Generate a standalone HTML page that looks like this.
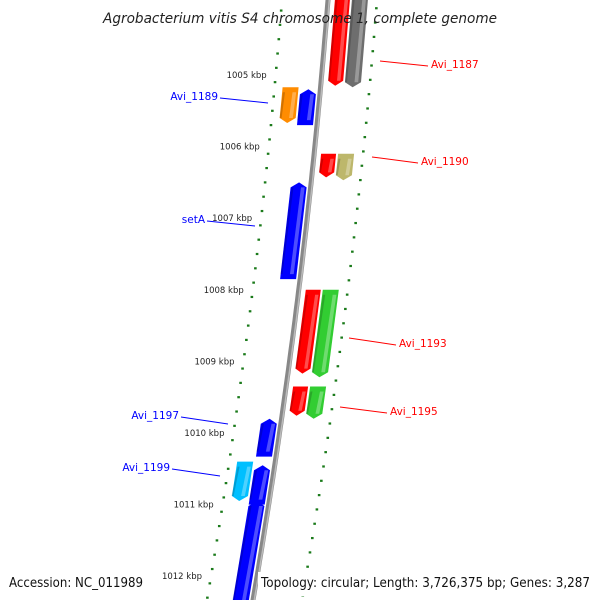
<!DOCTYPE html>
<html><head><meta charset="utf-8"><style>
body{margin:0;background:#fff;}
svg{display:block;font-family:"DejaVu Sans","Liberation Sans",sans-serif;}
</style></head><body>
<svg id="map" width="600" height="600" viewBox="0 0 600 600" xmlns="http://www.w3.org/2000/svg">
<rect width="600" height="600" fill="#fff"/>
<g id="tracks"></g>
<g id="genes"></g>
<g id="labels"></g>
<text x="103" y="23" textLength="394" lengthAdjust="spacingAndGlyphs" font-size="14" font-style="italic" fill="#222">Agrobacterium vitis S4 chromosome 1, complete genome</text>
<rect x="258" y="572" width="342" height="24" fill="#fff"/>
<text x="9" y="587" textLength="134" lengthAdjust="spacingAndGlyphs" font-size="13" fill="#111">Accession: NC_011989</text>
<text x="261" y="587" textLength="329" lengthAdjust="spacingAndGlyphs" font-size="13" fill="#111">Topology: circular; Length: 3,726,375 bp; Genes: 3,287</text>
</svg>
<script>
// data
const kbpTicks = [1005,1006,1007,1008,1009,1010,1011,1012];
const geneNames = ["g-top-red","g-top-gray","g-orange","Avi_1189","Avi_1190","g-khaki","setA","Avi_1193","g-green-1193","Avi_1195","g-green-1195","Avi_1197","Avi_1199","g-blue-1199","g-blue-bottom"];
const geneStart = [1003.8,1003.8,1005.17,1005.2,1006.1,1006.1,1006.5,1008.0,1008.0,1009.35,1009.35,1009.8,1010.4,1010.45,1010.95];
const geneEnd   = [1005.15,1005.17,1005.67,1005.7,1006.43,1006.47,1007.85,1009.17,1009.22,1009.76,1009.8,1010.33,1010.95,1011.0,1012.5];
const geneStrand= [-1,-1,-1,1,-1,-1,1,-1,-1,-1,-1,1,-1,1,1];
const geneLane  = [1,2,-2,-1,1,2,-1,1,2,1,2,-1,-2,-1,-1];
const geneColor = ["#ff0000","#6e6e6e","#ff8c00","#0000ff","#ff0000","#bdb76b","#0000ff","#ff0000","#32cd32","#ff0000","#32cd32","#0000ff","#00bfff","#0000ff","#0000ff"];
const labelNames = ["Avi_1187","Avi_1189","Avi_1190","setA","Avi_1193","Avi_1195","Avi_1197","Avi_1199"];
const labelColor = ["red","blue","red","blue","red","red","blue","blue"];
const labelX1 = [380,268,372,255,349,340,228,220];
const labelY1 = [61,103,157,226,338,407,424,476];
const labelX2 = [428,220,418,207,396,387,181,172];
const labelY2 = [66,98,163,221,345,413,417,469];

// axis functions
const NS="http://www.w3.org/2000/svg";
function yOf(k){ return 75 + (k-1005)*71.6; }
function bx(y){ return 328 - 0.0784*y - 7.77e-5*y*y; }
function mk(tag, attrs, parent){ const e=document.createElementNS(NS,tag); for(const k in attrs) e.setAttribute(k,attrs[k]); parent.appendChild(e); return e; }

const tracks=document.getElementById('tracks');
let d=""; for(let y=-10;y<=610;y+=10){ d+=(y===-10?"M":"L")+bx(y).toFixed(1)+","+y; }
const bb1=mk('path',{d:d,stroke:"#888",'stroke-width':5,fill:"none"},tracks);


const bb2=mk('path',{d:d,stroke:"#bbb",'stroke-width':1.5,fill:"none",transform:"translate(1.3,0)"},tracks);



for(let k=1003.7;k<=1012.5;k+=0.2){
  const kr=Math.round(k*10)/10;
  const y=yOf(kr);
  const major=Math.abs(kr-Math.round(kr))<0.01;
  const xl=bx(y)-46;
  const t=mk('line',{x1:xl-(major?4.5:1.3),y1:y,x2:xl+(major?4.5:1.3),y2:y+(major?0.8:0),stroke:"#1a7a1a",'stroke-width':2.2},tracks);
  
  
  const y2=y+12;
  const xr=bx(y2)+49;
  const t2=mk('line',{x1:xr-(major?4.5:1.3),y1:y2,x2:xr+(major?4.5:1.3),y2:y2+(major?0.8:0),stroke:"#1a7a1a",'stroke-width':2.2},tracks);
  
  
}
kbpTicks.forEach(k=>{
  const y=yOf(k);
  const tx=mk('text',{x:bx(y)-55,y:y+3,'text-anchor':'end','font-size':8.5,fill:"#222"},tracks);
  tx.textContent=k+" kbp";
  
  
});

const genes=document.getElementById('genes');
const laneOff={1:[7,22],2:[24,40],"-1":[-20,-4],"-2":[-38,-22]};
geneNames.forEach((n,i)=>{
  let y1=yOf(geneStart[i]), y2=yOf(geneEnd[i]);
  const off=laneOff[geneLane[i]];
  const a=Math.min(5,(y2-y1)/4);
  const pts=[];
  const left=y=>bx(y)+off[0], right=y=>bx(y)+off[1], mid=y=>bx(y)+(off[0]+off[1])/2;
  if(geneStrand[i]>0){
    pts.push([left(y1+a),y1+a],[mid(y1),y1],[right(y1+a),y1+a],[right(y2),y2],[left(y2),y2]);
  } else {
    pts.push([left(y1),y1],[right(y1),y1],[right(y2-a),y2-a],[mid(y2),y2],[left(y2-a),y2-a]);
  }
  const g=mk('g',{},genes);
  
  
  mk('polygon',{points:pts.map(p=>p[0].toFixed(1)+","+p[1].toFixed(1)).join(" "),fill:geneColor[i]},g);
  const w=(off[1]-off[0]);
  const sp=[[left(y1)+w*0.02,y1+a],[left(y1)+w*0.15,y1+a],[left(y2)+w*0.15,y2-a],[left(y2)+w*0.02,y2-a]];
  mk('polygon',{points:sp.map(p=>p[0].toFixed(1)+","+p[1].toFixed(1)).join(" "),fill:"#000",opacity:0.18},g);
  const hp=[[left(y1)+w*0.62,y1+a],[left(y1)+w*0.85,y1+a],[left(y2)+w*0.85,y2-a],[left(y2)+w*0.62,y2-a]];
  mk('polygon',{points:hp.map(p=>p[0].toFixed(1)+","+p[1].toFixed(1)).join(" "),fill:"#fff",opacity:0.3},g);
});

const labels=document.getElementById('labels');
labelNames.forEach((n,i)=>{
  const l=mk('line',{x1:labelX1[i],y1:labelY1[i],x2:labelX2[i],y2:labelY2[i],stroke:labelColor[i],'stroke-width':1},labels);
  
  
  const right=labelX2[i]>labelX1[i];
  const t=mk('text',{x:labelX2[i]+(right?3:-2),y:labelY2[i]+2,'text-anchor':right?'start':'end','font-size':10.5,fill:labelColor[i]},labels);
  t.textContent=n;
  
  
});
</script>
</body></html>
